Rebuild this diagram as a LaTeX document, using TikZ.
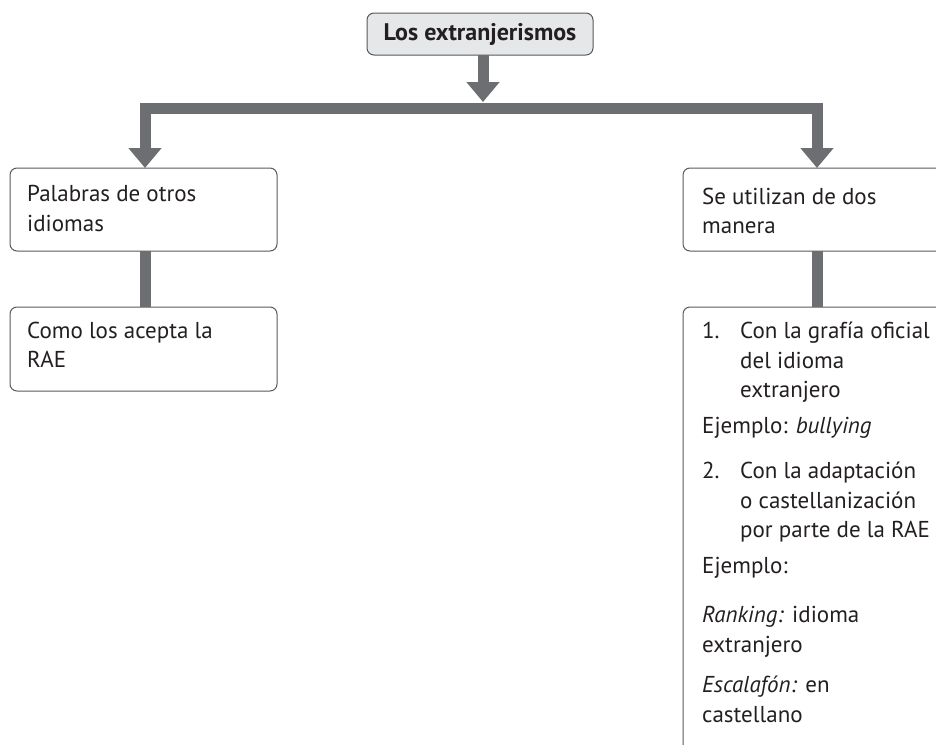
\documentclass[tikz,border=0pt]{standalone}
\usepackage{fontspec}
\setmainfont{PT Sans}
\usetikzlibrary{arrows.meta}
\definecolor{arrowgray}{HTML}{6D6E71}
\definecolor{boxline}{HTML}{58595B}
\definecolor{boxfill}{HTML}{E6E7E8}
\definecolor{txt}{HTML}{231F20}
\tikzset{
  box/.style={draw=boxline, line width=1pt, rounded corners=7pt, minimum width=267pt, anchor=north west, inner sep=0pt, outer sep=0pt},
  topbox/.style={box, fill=boxfill, minimum width=226pt, minimum height=42pt, anchor=center, font=\fontsize{24}{28}\selectfont\bfseries, text=txt},
  conn/.style={draw=arrowgray, line width=11pt, line cap=butt, line join=miter},
  tip/.style={-{Triangle[width=32pt,length=20pt]}},
  ln/.style={anchor=base west, inner sep=0pt, font=\fontsize{23}{27}\selectfont, text=txt}
}
\begin{document}
\begin{tikzpicture}[x=1pt,y=-1pt]
\useasboundingbox (0,0) rectangle (936,744);
\clip (0,0) rectangle (936,744);
% boxes
\node[topbox] (top) at (480,34) {Los extranjerismos};
\node[box, minimum height=83pt] (left) at (10,168) {};
\node[box, minimum height=84pt] (left2) at (10,307) {};
\node[box, minimum height=83pt] (right) at (683,168) {};
\node[box, minimum height=470pt] (right2) at (683,307) {};
% connectors
\draw[conn, tip] (top.south -| 483,0) -- (483,102);
\draw[conn, {Triangle[width=32pt,length=20pt]}-{Triangle[width=32pt,length=20pt]}]
  (145,168) -- (145,108) -- (817,108) -- (817,168);
\draw[conn] (left.south -| 145,0) -- (left2.north -| 145,0);
\draw[conn] (right.south -| 817,0) -- (right2.north -| 817,0);
% texts
\node[ln] (t1) at (27,201) {Palabras de otros};
\node[ln] (t2) at (27,231) {idiomas};
\node[ln] (t3) at (27,338) {Como los acepta la};
\node[ln] (t4) at (27,367) {RAE};
\node[ln] (r1) at (702,204) {Se utilizan de dos};
\node[ln] (r2) at (702,233) {manera};
\node[ln] (n1) at (702,338) {1.};
\node[ln] (a1) at (740,338) {Con la grafía oficial};
\node[ln] (a2) at (740,368) {del idioma};
\node[ln] (a3) at (740,397) {extranjero};
\node[ln] (e1) at (702,433) {Ejemplo: \textit{bullying}};
\node[ln] (n2) at (702,478) {2.};
\node[ln] (b1) at (740,478) {Con la adaptación};
\node[ln] (b2) at (740,508) {o castellanización};
\node[ln] (b3) at (740,537) {por parte de la RAE};
\node[ln] (e2) at (702,573) {Ejemplo:};
\node[ln] (k1) at (702,622) {\textit{Ranking:} idioma};
\node[ln] (k2) at (702,652) {extranjero};
\node[ln] (s1) at (702,692) {\textit{Escalafón:} en};
\node[ln] (s2) at (702,722) {castellano};
\end{tikzpicture}
\end{document}
